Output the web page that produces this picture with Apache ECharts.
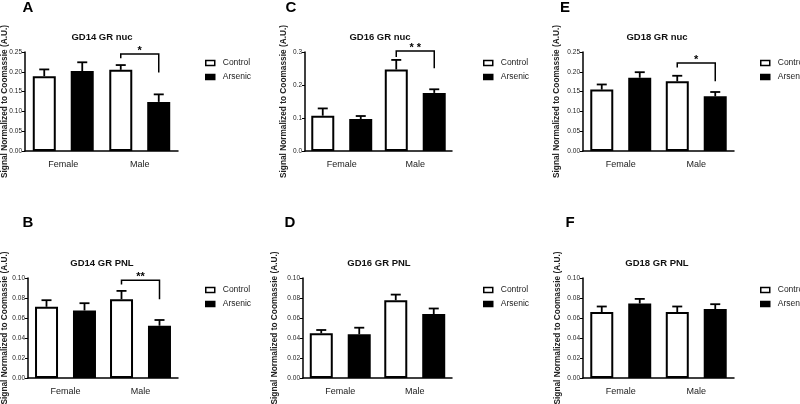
<!DOCTYPE html>
<html><head><meta charset="utf-8">
<script src="https://cdn.jsdelivr.net/npm/echarts@6/dist/echarts.min.js"></script>
<style>html,body{margin:0;padding:0;background:#fff}#c{width:800px;height:404px}</style>
</head><body><div id="c"></div>
<script>
// ---------- data ----------
const categories = ['Female', 'Male'];
const seriesNames = ['Control', 'Arsenic'];
const titles = ['GD14 GR nuc', 'GD16 GR nuc', 'GD18 GR nuc', 'GD14 GR PNL', 'GD16 GR PNL', 'GD18 GR PNL'];
const panelLetters = ['A', 'C', 'E', 'B', 'D', 'F'];
const yAxisName = 'Signal Normalized to Coomassie (A.U.)';

const ticksNuc025 = [0, 0.05, 0.10, 0.15, 0.20, 0.25];
const ticksNuc03 = [0, 0.1, 0.2, 0.3];
const ticksPnl = [0, 0.02, 0.04, 0.06, 0.08, 0.10];

// GD14 GR nuc
const gd14NucControl = [0.189, 0.205];
const gd14NucControlSem = [0.017, 0.012];
const gd14NucArsenic = [0.202, 0.124];
const gd14NucArsenicSem = [0.022, 0.019];
// GD16 GR nuc
const gd16NucControl = [0.107, 0.247];
const gd16NucControlSem = [0.022, 0.029];
const gd16NucArsenic = [0.097, 0.176];
const gd16NucArsenicSem = [0.009, 0.011];
// GD18 GR nuc
const gd18NucControl = [0.155, 0.176];
const gd18NucControlSem = [0.013, 0.014];
const gd18NucArsenic = [0.185, 0.138];
const gd18NucArsenicSem = [0.014, 0.011];
// GD14 GR PNL
const gd14PnlControl = [0.0712, 0.0788];
const gd14PnlControlSem = [0.0066, 0.0083];
const gd14PnlArsenic = [0.0675, 0.0523];
const gd14PnlArsenicSem = [0.0073, 0.0057];
// GD16 GR PNL
const gd16PnlControl = [0.0447, 0.0778];
const gd16PnlControlSem = [0.0033, 0.0056];
const gd16PnlArsenic = [0.0437, 0.0639];
const gd16PnlArsenicSem = [0.0066, 0.0056];
// GD18 GR PNL
const gd18PnlControl = [0.0659, 0.0659];
const gd18PnlControlSem = [0.0056, 0.0056];
const gd18PnlArsenic = [0.0745, 0.0689];
const gd18PnlArsenicSem = [0.0046, 0.0049];

// significance brackets (Male group): [top, control leg end, arsenic leg end]
const gd14NucBracket = [0.245, 0.234, 0.198];
const gd14NucStars = '*';
const gd16NucBracket = [0.303, 0.285, 0.251];
const gd16NucStars = '* *';
const gd18NucBracket = [0.222, 0.211, 0.176];
const gd18NucStars = '*';
const gd14PnlBracket = [0.0977, 0.0934, 0.0788];
const gd14PnlStars = '**';

// ---------- assembly ----------
const panelData = [
  {c: gd14NucControl, cs: gd14NucControlSem, a: gd14NucArsenic, as: gd14NucArsenicSem, ticks: ticksNuc025, dec: 2, br: gd14NucBracket, st: gd14NucStars},
  {c: gd16NucControl, cs: gd16NucControlSem, a: gd16NucArsenic, as: gd16NucArsenicSem, ticks: ticksNuc03, dec: 1, br: gd16NucBracket, st: gd16NucStars},
  {c: gd18NucControl, cs: gd18NucControlSem, a: gd18NucArsenic, as: gd18NucArsenicSem, ticks: ticksNuc025, dec: 2, br: gd18NucBracket, st: gd18NucStars},
  {c: gd14PnlControl, cs: gd14PnlControlSem, a: gd14PnlArsenic, as: gd14PnlArsenicSem, ticks: ticksPnl, dec: 2, br: gd14PnlBracket, st: gd14PnlStars},
  {c: gd16PnlControl, cs: gd16PnlControlSem, a: gd16PnlArsenic, as: gd16PnlArsenicSem, ticks: ticksPnl, dec: 2, br: null, st: null},
  {c: gd18PnlControl, cs: gd18PnlControlSem, a: gd18PnlArsenic, as: gd18PnlArsenicSem, ticks: ticksPnl, dec: 2, br: null, st: null}
];

const layouts = [
  {left: 25, width: 153, top: 52, height: 99, nameGap: 16, legL: 200, legT: 53, tx: 102, ty: 37, lx: 28, ly: 8},
  {left: 305, width: 147, top: 52, height: 99, nameGap: 17, legL: 478, legT: 53, tx: 380, ty: 37, lx: 291, ly: 8},
  {left: 583, width: 151, top: 52, height: 99, nameGap: 22, legL: 755, legT: 53, tx: 657, ty: 37, lx: 565, ly: 8},
  {left: 28, width: 150, top: 278, height: 100, nameGap: 19, legL: 200, legT: 280, tx: 102, ty: 263, lx: 28, ly: 223},
  {left: 303, width: 149, top: 278, height: 100, nameGap: 24, legL: 478, legT: 280, tx: 379, ty: 263, lx: 290, ly: 223},
  {left: 583, width: 151, top: 278, height: 100, nameGap: 21, legL: 755, legT: 280, tx: 657, ty: 263, lx: 570, ly: 223}
];

const FONT = '"Liberation Sans", Arial, sans-serif';
const BAR_W = 23, OFFSET = 19;

function errRender(offset) {
  return function (params, api) {
    const i = api.value(0), m = api.value(1), s = api.value(2);
    const b = api.coord([i, m]);
    const t = api.coord([i, m + s]);
    const x = b[0] + offset;
    const st = {stroke: '#000', lineWidth: 1.8};
    return {type: 'group', children: [
      {type: 'line', shape: {x1: x, y1: b[1], x2: x, y2: t[1]}, style: st},
      {type: 'line', shape: {x1: x - 5, y1: t[1], x2: x + 5, y2: t[1]}, style: st}
    ]};
  };
}
function bracketRender(stars) {
  return function (params, api) {
    const i = api.value(0);
    const top = api.coord([i, api.value(1)]);
    const yl = api.coord([i, api.value(2)])[1];
    const yr = api.coord([i, api.value(3)])[1];
    const xl = top[0] - OFFSET, xr = top[0] + OFFSET, yt = top[1];
    return {type: 'group', children: [
      {type: 'polyline', shape: {points: [[xl, yl], [xl, yt], [xr, yt], [xr, yr]]}, style: {stroke: '#000', lineWidth: 1.5, fill: null}},
      {type: 'text', x: (xl + xr) / 2, y: yt - 3, style: {text: stars, fill: '#000', font: 'bold 11px ' + FONT, align: 'center', verticalAlign: 'middle'}}
    ]};
  };
}

const grid = [], xAxis = [], yAxis = [], series = [], legend = [], graphic = [];
panelData.forEach((p, k) => {
  const L = layouts[k];
  grid.push({left: L.left, width: L.width, top: L.top, height: L.height, containLabel: false, outerBoundsMode: 'none'});
  xAxis.push({
    type: 'category', gridIndex: k, data: categories,
    axisLine: {lineStyle: {color: '#000', width: 1.5}},
    axisTick: {show: false},
    axisLabel: {fontSize: 9, color: '#222', fontFamily: FONT, margin: 9}
  });
  const t = p.ticks;
  yAxis.push({
    type: 'value', gridIndex: k, min: t[0], max: t[t.length - 1], interval: t[1] - t[0],
    name: yAxisName, nameLocation: 'middle', nameGap: L.nameGap, nameRotate: 90, nameMoveOverlap: false,
    nameTextStyle: {fontSize: 8.3, fontWeight: 'bold', color: '#222', fontFamily: FONT},
    axisLine: {show: true, lineStyle: {color: '#000', width: 1.5}},
    axisTick: {show: true, length: 3, lineStyle: {color: '#000', width: 1}},
    splitLine: {show: false},
    axisLabel: {fontSize: 6.5, color: '#222', fontFamily: FONT, margin: 3, formatter: v => v.toFixed(p.dec)}
  });
  series.push({
    type: 'bar', name: 'Control', xAxisIndex: k, yAxisIndex: k, data: p.c,
    barWidth: BAR_W, barGap: '65%', silent: true,
    itemStyle: {color: '#fff', borderColor: '#000', borderWidth: 2}
  });
  series.push({
    type: 'bar', name: 'Arsenic', xAxisIndex: k, yAxisIndex: k, data: p.a,
    barWidth: BAR_W, barGap: '65%', silent: true,
    itemStyle: {color: '#000', borderColor: '#000', borderWidth: 2}
  });
  series.push({
    type: 'custom', xAxisIndex: k, yAxisIndex: k, silent: true, z: 5,
    renderItem: errRender(-OFFSET), encode: {x: 0, y: 1},
    data: categories.map((c, i) => [i, p.c[i], p.cs[i]])
  });
  series.push({
    type: 'custom', xAxisIndex: k, yAxisIndex: k, silent: true, z: 5,
    renderItem: errRender(OFFSET), encode: {x: 0, y: 1},
    data: categories.map((c, i) => [i, p.a[i], p.as[i]])
  });
  if (p.br) {
    series.push({
      type: 'custom', xAxisIndex: k, yAxisIndex: k, silent: true, z: 6, clip: false,
      renderItem: bracketRender(p.st), encode: {x: 0, y: 1},
      data: [[1, p.br[0], p.br[1], p.br[2]]]
    });
  }
  legend.push({
    data: seriesNames, orient: 'vertical', left: L.legL, top: L.legT,
    itemWidth: 9, itemHeight: 5, itemGap: 4, icon: 'rect', selectedMode: false,
    itemStyle: {borderWidth: 1.5, borderColor: '#000'},
    textStyle: {fontSize: 8.5, color: '#222', fontFamily: FONT, lineHeight: 10, padding: [0, 0, 0, 3]}
  });
  graphic.push({type: 'text', x: L.tx, y: L.ty, style: {text: titles[k], fill: '#111', font: 'bold 9.5px ' + FONT, align: 'center', verticalAlign: 'middle'}});
  graphic.push({type: 'text', x: L.lx, y: L.ly, style: {text: panelLetters[k], fill: '#000', font: 'bold 15px ' + FONT, align: 'center', verticalAlign: 'middle'}});
});

const chart = echarts.init(document.getElementById('c'), null, {renderer: 'canvas'});
chart.setOption({animation: false, backgroundColor: '#fff', grid, xAxis, yAxis, series, legend, graphic});
</script></body></html>
